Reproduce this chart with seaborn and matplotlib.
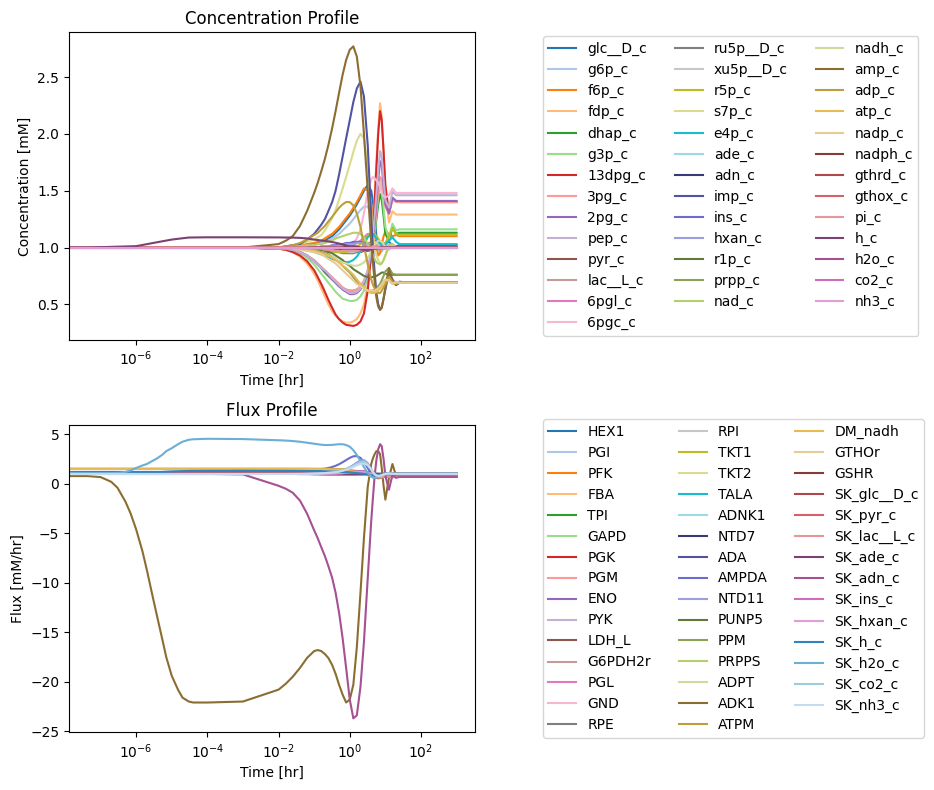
import matplotlib
matplotlib.use("Agg")
import matplotlib.pyplot as plt
import pandas as pd
import seaborn as sns

# time points [hr]; the 0 start gets clipped to the left edge of the log axis
t_grade = [0, 4.3e-8, 1e-6, 3e-6, 1e-5, 3e-5, 1e-4, 1e-3,
           0.01, 0.016, 0.025, 0.04, 0.063,
           0.1, 0.126, 0.158, 0.2, 0.25,
           0.32, 0.4, 0.5, 0.63, 0.79,
           1.0, 1.26, 1.58, 2.0, 2.5,
           3.2, 4.0, 4.5, 5.0, 5.6,
           6.3, 7.1, 7.9, 8.9, 10,
           12.6, 15.8, 20, 25, 32,
           50, 1000]
# denser start, for the two fluxes that move early
t_grade_fina = [0, 4.3e-8, 1e-7, 2e-7, 3e-7, 5e-7, 7e-7, 1e-6, 1.5e-6, 2e-6, 3e-6, 4e-6,
                5.5e-6, 7e-6, 1e-5, 1.5e-5, 2e-5, 3e-5, 4e-5, 1e-4, 1e-3,
                0.01, 0.016, 0.025, 0.04, 0.063,
                0.1, 0.126, 0.158, 0.2, 0.25,
                0.32, 0.4, 0.5, 0.63, 0.79,
                1.0, 1.26, 1.58, 2.0, 2.5,
                3.2, 4.0, 4.5, 5.0, 5.6,
                6.3, 7.1, 7.9, 8.9, 10,
                12.6, 15.8, 20, 25, 32,
                50, 1000]
x_ticks = [1e-6, 1e-4, 1e-2, 1e0, 1e2]

################## Concentrations (mM) ##################
glc__D_c = [1.0, 1.0, 1.0, 1.0, 1.0, 1.0, 1.0, 1.0,
            1.0, 1.0, 1.01, 1.01, 1.02, 1.03, 1.04, 1.05, 1.06, 1.08,
            1.1, 1.13, 1.16, 1.2, 1.24, 1.28, 1.33, 1.38, 1.44, 1.5,
            1.55, 1.5, 1.4, 1.25, 1.1, 1.0, 0.96, 0.97, 1.0, 1.04,
            1.05, 1.02, 1.01, 1.02, 1.02, 1.02, 1.02]
g6p_c = [1.0, 1.0, 1.0, 1.0, 1.0, 1.0, 1.0, 1.0,
         1.0, 1.0, 1.0, 1.01, 1.01, 1.02, 1.03, 1.04, 1.05, 1.06,
         1.08, 1.1, 1.12, 1.15, 1.18, 1.21, 1.25, 1.29, 1.33, 1.36,
         1.36, 1.3, 1.22, 1.12, 1.04, 0.98, 0.96, 0.97, 1.0, 1.02,
         1.03, 1.01, 1.0, 1.0, 1.0, 1.0, 1.0]
f6p_c = [1.0, 1.0, 1.0, 1.0, 1.0, 1.0, 1.0, 1.0,
         1.0, 1.0, 1.01, 1.02, 1.03, 1.04, 1.05, 1.06, 1.08, 1.1,
         1.12, 1.15, 1.18, 1.22, 1.26, 1.3, 1.35, 1.4, 1.46, 1.52,
         1.5, 1.38, 1.25, 1.1, 1.0, 0.93, 0.95, 1.02, 1.1, 1.14,
         1.12, 1.1, 1.11, 1.1, 1.1, 1.1, 1.1]
fdp_c = [1.0, 1.0, 1.0, 1.0, 1.0, 1.0, 1.0, 1.0,
         0.99, 0.98, 0.96, 0.92, 0.86, 0.77, 0.71, 0.64, 0.57, 0.5,
         0.44, 0.4, 0.37, 0.35, 0.34, 0.34, 0.35, 0.37, 0.42, 0.5,
         0.68, 1.0, 1.18, 1.45, 1.75, 2.05, 2.27, 2.15, 1.85, 1.5,
         1.22, 1.32, 1.29, 1.29, 1.29, 1.29, 1.29]
dhap_c = [1.0, 1.0, 1.0, 1.0, 1.0, 1.0, 1.0, 1.0,
          0.99, 0.99, 0.98, 0.96, 0.93, 0.88, 0.85, 0.82, 0.78, 0.75,
          0.72, 0.69, 0.66, 0.64, 0.63, 0.62, 0.62, 0.63, 0.65, 0.69,
          0.78, 0.9, 1.0, 1.12, 1.25, 1.38, 1.47, 1.42, 1.28, 1.12,
          1.06, 1.18, 1.12, 1.13, 1.13, 1.13, 1.13]
g3p_c = [1.0, 1.0, 1.0, 1.0, 1.0, 1.0, 1.0, 1.0,
         0.99, 0.98, 0.97, 0.95, 0.91, 0.85, 0.81, 0.77, 0.73, 0.69,
         0.65, 0.61, 0.58, 0.55, 0.54, 0.53, 0.53, 0.54, 0.57, 0.62,
         0.75, 0.9, 1.02, 1.15, 1.3, 1.45, 1.56, 1.5, 1.35, 1.18,
         1.08, 1.21, 1.15, 1.16, 1.16, 1.16, 1.16]
_13dpg_c = [1.0, 1.0, 1.0, 1.0, 1.0, 1.0, 1.0, 1.0,
            0.99, 0.98, 0.96, 0.93, 0.88, 0.8, 0.74, 0.68, 0.61, 0.54,
            0.47, 0.41, 0.37, 0.34, 0.32, 0.315, 0.31, 0.32, 0.35, 0.42,
            0.62, 0.95, 1.12, 1.4, 1.7, 2.0, 2.2, 2.12, 1.85, 1.55,
            1.3, 1.43, 1.41, 1.4, 1.4, 1.4, 1.4]
_3pg_c = [1.0, 1.0, 1.0, 1.0, 1.0, 1.0, 1.0, 1.0,
          0.99, 0.99, 0.98, 0.96, 0.93, 0.89, 0.86, 0.83, 0.8, 0.77,
          0.74, 0.71, 0.68, 0.65, 0.63, 0.62, 0.62, 0.63, 0.66, 0.71,
          0.8, 0.95, 1.06, 1.18, 1.32, 1.48, 1.62, 1.6, 1.48, 1.36,
          1.3, 1.42, 1.4, 1.4, 1.4, 1.4, 1.4]
_2pg_c = [1.0, 1.0, 1.0, 1.0, 1.0, 1.0, 1.0, 1.0,
          0.99, 0.99, 0.98, 0.96, 0.93, 0.88, 0.85, 0.82, 0.79, 0.76,
          0.72, 0.69, 0.66, 0.63, 0.61, 0.59, 0.59, 0.6, 0.63, 0.68,
          0.78, 0.95, 1.08, 1.22, 1.4, 1.6, 1.76, 1.72, 1.55, 1.38,
          1.3, 1.44, 1.41, 1.41, 1.41, 1.41, 1.41]
pep_c = [1.0, 1.0, 1.0, 1.0, 1.0, 1.0, 1.0, 1.0,
         0.99, 0.99, 0.98, 0.96, 0.93, 0.88, 0.85, 0.82, 0.8, 0.77,
         0.73, 0.7, 0.67, 0.64, 0.62, 0.6, 0.6, 0.61, 0.64, 0.7,
         0.8, 0.98, 1.12, 1.28, 1.47, 1.68, 1.85, 1.8, 1.6, 1.42,
         1.35, 1.49, 1.46, 1.46, 1.46, 1.46, 1.46]
pyr_c = [1.0, 1.0, 1.0, 1.0, 1.0, 1.0, 1.0, 1.0,
         1.0, 1.0, 1.0, 1.0, 1.0, 0.99, 0.99, 0.99, 0.98, 0.98,
         0.98, 0.97, 0.97, 0.97, 0.96, 0.96, 0.96, 0.96, 0.96, 0.97,
         0.97, 0.98, 0.99, 1.0, 1.0, 1.01, 1.01, 1.01, 1.0, 1.0,
         1.0, 1.0, 1.0, 1.0, 1.0, 1.0, 1.0]
lac__L_c = [1.0, 1.0, 1.0, 1.0, 1.0, 1.0, 1.0, 1.0,
            1.0, 1.0, 1.0, 1.0, 1.0, 1.0, 0.99, 0.99, 0.99, 0.98,
            0.98, 0.98, 0.97, 0.97, 0.97, 0.97, 0.97, 0.97, 0.97, 0.98,
            0.98, 0.99, 0.99, 1.0, 1.0, 1.01, 1.01, 1.0, 1.0, 1.0,
            1.0, 1.0, 1.0, 1.0, 1.0, 1.0, 1.0]
_6pgl_c = [1.0, 1.0, 1.0, 1.0, 1.0, 1.0, 1.0, 1.0,
           1.0, 1.0, 1.0, 1.0, 1.0, 1.0, 1.0, 1.0, 1.0, 1.0,
           1.0, 1.0, 1.0, 1.01, 1.01, 1.01, 1.02, 1.04, 1.06, 1.09,
           1.12, 1.12, 1.1, 1.08, 1.05, 1.02, 1.0, 0.99, 1.0, 1.01,
           1.01, 1.0, 1.0, 1.0, 1.0, 1.0, 1.0]
_6pgc_c = [1.0, 1.0, 1.0, 1.0, 1.0, 1.0, 1.0, 1.0,
           1.0, 1.0, 1.0, 1.0, 1.0, 1.0, 1.0, 1.0, 1.0, 1.0,
           1.0, 1.0, 1.0, 1.0, 1.01, 1.02, 1.04, 1.08, 1.16, 1.3,
           1.5, 1.6, 1.62, 1.61, 1.59, 1.57, 1.53, 1.48, 1.45, 1.44,
           1.46, 1.52, 1.48, 1.48, 1.48, 1.48, 1.48]
ru5p__D_c = [1.0, 1.0, 1.0, 1.0, 1.0, 1.0, 1.0, 1.0,
             1.0, 1.0, 1.0, 1.0, 1.0, 0.99, 0.99, 0.98, 0.98, 0.97,
             0.97, 0.96, 0.96, 0.95, 0.95, 0.95, 0.95, 0.96, 0.98, 1.0,
             1.03, 1.05, 1.06, 1.06, 1.05, 1.04, 1.02, 1.0, 0.99, 0.99,
             1.0, 1.01, 1.0, 1.0, 1.0, 1.0, 1.0]
xu5p__D_c = [1.0, 1.0, 1.0, 1.0, 1.0, 1.0, 1.0, 1.0,
             1.0, 1.0, 1.0, 1.0, 1.0, 0.99, 0.99, 0.99, 0.98, 0.98,
             0.97, 0.97, 0.96, 0.96, 0.96, 0.96, 0.96, 0.97, 0.98, 1.0,
             1.02, 1.04, 1.05, 1.05, 1.04, 1.03, 1.01, 1.0, 0.99, 0.99,
             1.0, 1.01, 1.0, 1.0, 1.0, 1.0, 1.0]
r5p_c = [1.0, 1.0, 1.0, 1.0, 1.0, 1.0, 1.0, 1.0,
         1.0, 1.0, 1.0, 1.0, 1.0, 0.99, 0.99, 0.98, 0.98, 0.97,
         0.97, 0.96, 0.96, 0.96, 0.96, 0.97, 0.98, 1.0, 1.03, 1.07,
         1.1, 1.13, 1.13, 1.12, 1.1, 1.08, 1.05, 1.03, 1.02, 1.04,
         1.1, 1.17, 1.12, 1.11, 1.11, 1.11, 1.11]
s7p_c = [1.0, 1.0, 1.0, 1.0, 1.0, 1.0, 1.0, 1.0,
         1.0, 1.01, 1.02, 1.03, 1.05, 1.07, 1.09, 1.11, 1.15, 1.2,
         1.26, 1.33, 1.42, 1.52, 1.62, 1.73, 1.84, 1.94, 2.0, 1.96,
         1.7, 1.3, 1.12, 1.0, 0.93, 0.89, 0.86, 0.86, 0.89, 0.93,
         1.02, 1.03, 1.0, 1.0, 1.0, 1.0, 1.0]
e4p_c = [1.0, 1.0, 1.0, 1.0, 1.0, 1.0, 1.0, 1.0,
         1.0, 1.0, 0.99, 0.99, 0.98, 0.96, 0.95, 0.94, 0.93, 0.92,
         0.9, 0.89, 0.88, 0.87, 0.87, 0.875, 0.89, 0.92, 0.97, 1.03,
         1.09, 1.12, 1.12, 1.1, 1.08, 1.06, 1.04, 1.02, 1.02, 1.03,
         1.06, 1.09, 1.05, 1.03, 1.03, 1.03, 1.03]
ade_c = [1.0, 1.0, 1.0, 1.0, 1.0, 1.0, 1.0, 1.0,
         1.0, 1.0, 1.0, 1.0, 1.0, 1.0, 1.0, 1.0, 0.99, 0.99,
         0.99, 0.98, 0.98, 0.98, 0.98, 0.98, 0.98, 0.99, 1.0, 1.0,
         1.01, 1.01, 1.01, 1.01, 1.0, 1.0, 1.0, 1.0, 1.0, 1.0,
         1.0, 1.0, 1.0, 1.0, 1.0, 1.0, 1.0]
adn_c = [1.0, 1.0, 1.0, 1.0, 1.0, 1.0, 1.0, 1.0,
         1.0, 1.0, 1.0, 1.0, 1.0, 1.0, 1.0, 1.0, 1.0, 1.0,
         0.99, 0.99, 0.99, 0.98, 0.98, 0.98, 0.98, 0.99, 0.99, 1.0,
         1.0, 1.0, 1.0, 1.0, 1.0, 1.0, 1.0, 1.0, 1.0, 1.0,
         1.0, 1.0, 1.0, 1.0, 1.0, 1.0, 1.0]
imp_c = [1.0, 1.0, 1.0, 1.0, 1.0, 1.0, 1.0, 1.0,
         1.0, 1.01, 1.02, 1.03, 1.07, 1.12, 1.16, 1.2, 1.25, 1.32,
         1.4, 1.5, 1.64, 1.8, 1.96, 2.12, 2.28, 2.4, 2.46, 2.33,
         1.9, 1.27, 0.98, 0.78, 0.6, 0.5, 0.46, 0.47, 0.55, 0.63,
         0.78, 0.72, 0.67, 0.69, 0.69, 0.69, 0.69]
ins_c = [1.0, 1.0, 1.0, 1.0, 1.0, 1.0, 1.0, 1.0,
         1.0, 1.0, 1.0, 1.0, 1.0, 1.0, 1.0, 1.01, 1.01, 1.01,
         1.02, 1.02, 1.03, 1.03, 1.04, 1.04, 1.05, 1.05, 1.05, 1.04,
         1.03, 1.01, 1.0, 0.99, 0.99, 0.99, 1.0, 1.0, 1.0, 1.0,
         1.0, 1.0, 1.0, 1.0, 1.0, 1.0, 1.0]
hxan_c = [1.0, 1.0, 1.0, 1.0, 1.0, 1.0, 1.0, 1.0,
          1.0, 1.0, 1.0, 1.0, 1.0, 1.0, 1.0, 1.0, 1.0, 1.01,
          1.01, 1.01, 1.02, 1.02, 1.03, 1.03, 1.03, 1.04, 1.04, 1.03,
          1.02, 1.01, 1.0, 1.0, 1.0, 1.0, 1.0, 1.0, 1.0, 1.0,
          1.0, 1.0, 1.0, 1.0, 1.0, 1.0, 1.0]
r1p_c = [1.0, 1.0, 1.0, 1.0, 1.0, 1.0, 1.0, 1.0,
         1.0, 1.0, 1.0, 1.0, 0.99, 0.99, 0.98, 0.98, 0.97, 0.96,
         0.95, 0.93, 0.91, 0.89, 0.86, 0.84, 0.81, 0.79, 0.77, 0.75,
         0.74, 0.74, 0.74, 0.75, 0.75, 0.76, 0.77, 0.78, 0.78, 0.77,
         0.76, 0.76, 0.76, 0.76, 0.76, 0.76, 0.76]
prpp_c = [1.0, 1.0, 1.0, 1.0, 1.0, 1.0, 1.0, 1.0,
          1.0, 1.0, 1.0, 0.99, 0.99, 0.98, 0.97, 0.96, 0.95, 0.94,
          0.92, 0.9, 0.87, 0.84, 0.81, 0.78, 0.74, 0.7, 0.67, 0.64,
          0.62, 0.62, 0.62, 0.63, 0.64, 0.66, 0.68, 0.71, 0.75, 0.79,
          0.82, 0.77, 0.76, 0.76, 0.76, 0.76, 0.76]
nad_c = [1.0, 1.0, 1.0, 1.0, 1.0, 1.0, 1.0, 1.0,
         1.0, 1.0, 1.01, 1.01, 1.02, 1.02, 1.03, 1.03, 1.04, 1.05,
         1.06, 1.08, 1.09, 1.1, 1.11, 1.12, 1.13, 1.13, 1.12, 1.09,
         1.03, 0.97, 0.93, 0.9, 0.87, 0.86, 0.85, 0.86, 0.89, 0.93,
         1.02, 1.03, 1.0, 1.0, 1.0, 1.0, 1.0]
nadh_c = [1.0, 1.0, 1.0, 1.0, 1.0, 1.0, 1.0, 1.0,
          1.0, 1.0, 0.99, 0.99, 0.98, 0.97, 0.96, 0.95, 0.94, 0.93,
          0.92, 0.9, 0.88, 0.87, 0.86, 0.85, 0.84, 0.84, 0.85, 0.87,
          0.91, 0.96, 0.99, 1.02, 1.04, 1.06, 1.06, 1.05, 1.03, 1.0,
          0.98, 1.01, 1.0, 1.0, 1.0, 1.0, 1.0]
amp_c = [1.0, 1.0, 1.0, 1.0, 1.0, 1.0, 1.0, 1.0,
         1.03, 1.06, 1.1, 1.19, 1.32, 1.48, 1.57, 1.67, 1.78, 1.9,
         2.05, 2.2, 2.36, 2.52, 2.65, 2.74, 2.77, 2.68, 2.42, 2.0,
         1.5, 1.05, 0.85, 0.7, 0.56, 0.48, 0.45, 0.47, 0.55, 0.65,
         0.82, 0.7, 0.67, 0.7, 0.695, 0.695, 0.695]
adp_c = [1.0, 1.0, 1.0, 1.0, 1.0, 1.0, 1.0, 1.0,
         1.0, 1.01, 1.02, 1.04, 1.07, 1.11, 1.13, 1.16, 1.19, 1.23,
         1.27, 1.31, 1.35, 1.38, 1.4, 1.4, 1.37, 1.3, 1.18, 1.02,
         0.85, 0.72, 0.67, 0.64, 0.61, 0.6, 0.6, 0.62, 0.65, 0.68,
         0.74, 0.7, 0.68, 0.69, 0.69, 0.69, 0.69]
atp_c = [1.0, 1.0, 1.0, 1.0, 1.0, 1.0, 1.0, 1.0,
         1.0, 1.0, 0.99, 0.99, 0.98, 0.97, 0.96, 0.95, 0.94, 0.93,
         0.91, 0.89, 0.87, 0.84, 0.82, 0.79, 0.76, 0.72, 0.68, 0.65,
         0.62, 0.6, 0.6, 0.6, 0.61, 0.62, 0.64, 0.66, 0.69, 0.71,
         0.71, 0.68, 0.69, 0.69, 0.69, 0.69, 0.69]
nadp_c = [1.0, 1.0, 1.0, 1.0, 1.0, 1.0, 1.0, 1.0,
          1.0, 1.0, 0.99, 0.98, 0.97, 0.96, 0.95, 0.94, 0.92, 0.9,
          0.88, 0.86, 0.83, 0.8, 0.77, 0.74, 0.71, 0.68, 0.66, 0.64,
          0.62, 0.62, 0.62, 0.62, 0.63, 0.64, 0.66, 0.68, 0.7, 0.72,
          0.71, 0.68, 0.7, 0.69, 0.69, 0.69, 0.69]
nadph_c = [1.0, 1.0, 1.0, 1.0, 1.0, 1.0, 1.0, 1.0,
           1.0, 1.0, 1.0, 1.0, 1.0, 1.0, 1.0, 1.0, 1.0, 1.0,
           1.0, 1.0, 1.0, 1.0, 1.01, 1.01, 1.01, 1.01, 1.0, 1.0,
           1.0, 1.0, 1.0, 1.0, 1.0, 1.0, 1.0, 1.0, 1.0, 1.0,
           1.0, 1.0, 1.0, 1.0, 1.0, 1.0, 1.0]
gthrd_c = [1.0, 1.0, 1.0, 1.0, 1.0, 1.0, 1.0, 1.0,
           1.0, 1.0, 1.0, 1.0, 1.0, 1.0, 1.0, 1.0, 1.0, 1.0,
           1.0, 1.0, 1.0, 1.0, 1.0, 1.0, 1.0, 1.0, 1.0, 1.0,
           1.0, 1.0, 1.0, 1.0, 1.0, 1.0, 1.0, 1.0, 1.0, 1.0,
           1.0, 1.0, 1.0, 1.0, 1.0, 1.0, 1.0]
gthox_c = [1.0, 1.0, 1.0, 1.0, 1.0, 1.0, 1.0, 1.0,
           1.0, 1.0, 1.0, 1.0, 1.0, 1.0, 1.0, 1.0, 1.0, 1.0,
           1.0, 1.0, 1.0, 0.99, 0.99, 0.99, 0.99, 0.99, 1.0, 1.0,
           1.0, 1.0, 1.0, 1.0, 1.0, 1.0, 1.0, 1.0, 1.0, 1.0,
           1.0, 1.0, 1.0, 1.0, 1.0, 1.0, 1.0]
pi_c = [1.0, 1.0, 1.0, 1.0, 1.0, 1.0, 1.0, 1.0,
        1.0, 1.0, 1.0, 1.0, 1.0, 0.99, 0.99, 0.99, 0.98, 0.98,
        0.98, 0.97, 0.97, 0.97, 0.97, 0.97, 0.97, 0.97, 0.98, 0.99,
        1.0, 1.0, 1.01, 1.01, 1.01, 1.01, 1.0, 1.0, 1.0, 1.0,
        1.0, 1.0, 1.0, 1.0, 1.0, 1.0, 1.0]
h_c = [1.0, 1.0, 1.012, 1.04, 1.07, 1.088, 1.09, 1.09,
       1.089, 1.088, 1.087, 1.085, 1.08, 1.07, 1.066, 1.062, 1.058, 1.054,
       1.048, 1.042, 1.035, 1.027, 1.018, 1.008, 0.998, 0.99, 0.984, 0.98,
       0.98, 0.983, 0.986, 0.99, 0.993, 0.996, 0.998, 1.0, 1.0, 1.0,
       1.0, 1.0, 1.0, 1.0, 1.0, 1.0, 1.0]
h2o_c = [1.0, 1.0, 1.0, 1.0, 1.0, 1.0, 1.0, 1.0,
         1.0, 1.0, 1.0, 1.0, 1.0, 1.0, 1.0, 1.0, 1.0, 1.0,
         1.0, 1.0, 1.0, 1.0, 1.0, 1.0, 1.0, 1.0, 1.0, 1.0,
         1.0, 1.0, 1.0, 1.0, 1.0, 1.0, 1.0, 1.0, 1.0, 1.0,
         1.0, 1.0, 1.0, 1.0, 1.0, 1.0, 1.0]
co2_c = [1.0, 1.0, 1.0, 1.0, 1.0, 1.0, 1.0, 1.0,
         1.0, 1.0, 1.0, 1.0, 1.0, 1.0, 1.0, 1.0, 1.0, 1.0,
         1.0, 1.0, 1.0, 1.0, 1.0, 1.0, 1.0, 1.0, 1.0, 1.0,
         1.0, 1.0, 1.0, 1.0, 1.0, 1.0, 1.0, 1.0, 1.0, 1.0,
         1.0, 1.0, 1.0, 1.0, 1.0, 1.0, 1.0]
nh3_c = [1.0, 1.0, 1.0, 1.0, 1.0, 1.0, 1.0, 1.0,
         1.0, 1.0, 1.0, 1.0, 1.0, 1.0, 1.0, 1.0, 1.0, 1.0,
         1.0, 1.0, 1.0, 1.0, 1.0, 1.0, 1.0, 1.0, 1.0, 1.0,
         1.0, 1.0, 1.0, 1.0, 1.0, 1.0, 1.0, 1.0, 1.0, 1.0,
         1.0, 1.0, 1.0, 1.0, 1.0, 1.0, 1.0]

met_names = ["glc__D_c", "g6p_c", "f6p_c", "fdp_c", "dhap_c", "g3p_c", "13dpg_c", "3pg_c",
             "2pg_c", "pep_c", "pyr_c", "lac__L_c", "6pgl_c", "6pgc_c", "ru5p__D_c", "xu5p__D_c",
             "r5p_c", "s7p_c", "e4p_c", "ade_c", "adn_c", "imp_c", "ins_c", "hxan_c", "r1p_c",
             "prpp_c", "nad_c", "nadh_c", "amp_c", "adp_c", "atp_c", "nadp_c", "nadph_c",
             "gthrd_c", "gthox_c", "pi_c", "h_c", "h2o_c", "co2_c", "nh3_c"]
met_values = [glc__D_c, g6p_c, f6p_c, fdp_c, dhap_c, g3p_c, _13dpg_c, _3pg_c, _2pg_c, pep_c,
              pyr_c, lac__L_c, _6pgl_c, _6pgc_c, ru5p__D_c, xu5p__D_c, r5p_c, s7p_c, e4p_c,
              ade_c, adn_c, imp_c, ins_c, hxan_c, r1p_c, prpp_c, nad_c, nadh_c, amp_c, adp_c,
              atp_c, nadp_c, nadph_c, gthrd_c, gthox_c, pi_c, h_c, h2o_c, co2_c, nh3_c]

################## Fluxes (mM/hr) ##################
HEX1 = [1.12, 1.12, 1.12, 1.12, 1.12, 1.12, 1.12, 1.12,
        1.12, 1.12, 1.12, 1.13, 1.13, 1.14, 1.14, 1.15, 1.16, 1.17,
        1.18, 1.2, 1.22, 1.24, 1.26, 1.28, 1.3, 1.3, 1.26, 1.18,
        1.05, 0.88, 0.79, 0.71, 0.65, 0.62, 0.63, 0.67, 0.72, 0.75,
        0.72, 0.69, 0.7, 0.7, 0.7, 0.7, 0.7]
PGI = [1.1, 1.1, 1.1, 1.1, 1.1, 1.1, 1.1, 1.1,
       1.1, 1.1, 1.1, 1.11, 1.11, 1.12, 1.12, 1.13, 1.14, 1.15,
       1.16, 1.18, 1.2, 1.22, 1.24, 1.26, 1.28, 1.28, 1.24, 1.16,
       1.03, 0.86, 0.77, 0.7, 0.65, 0.62, 0.64, 0.68, 0.73, 0.75,
       0.71, 0.69, 0.7, 0.7, 0.7, 0.7, 0.7]
PFK = [1.1, 1.1, 1.1, 1.1, 1.1, 1.1, 1.1, 1.1,
       1.1, 1.1, 1.1, 1.1, 1.1, 1.11, 1.11, 1.12, 1.12, 1.13,
       1.14, 1.15, 1.16, 1.18, 1.19, 1.2, 1.22, 1.22, 1.2, 1.13,
       1.02, 0.85, 0.74, 0.64, 0.58, 0.56, 0.6, 0.68, 0.76, 0.8,
       0.72, 0.68, 0.7, 0.7, 0.7, 0.7, 0.7]
FBA = [1.1, 1.1, 1.1, 1.1, 1.1, 1.1, 1.1, 1.1,
       1.09, 1.09, 1.08, 1.08, 1.07, 1.06, 1.05, 1.05, 1.04, 1.03,
       1.03, 1.02, 1.02, 1.02, 1.02, 1.03, 1.04, 1.05, 1.06, 1.04,
       0.98, 0.88, 0.8, 0.72, 0.66, 0.62, 0.63, 0.68, 0.76, 0.8,
       0.72, 0.68, 0.7, 0.7, 0.7, 0.7, 0.7]
TPI = [1.08, 1.08, 1.08, 1.08, 1.08, 1.08, 1.08, 1.08,
       1.07, 1.07, 1.06, 1.06, 1.05, 1.04, 1.03, 1.03, 1.02, 1.01,
       1.01, 1.0, 1.0, 1.0, 1.0, 1.0, 1.01, 1.02, 1.04, 1.03,
       0.98, 0.88, 0.81, 0.74, 0.68, 0.64, 0.65, 0.69, 0.75, 0.78,
       0.71, 0.69, 0.7, 0.7, 0.7, 0.7, 0.7]
GAPD = [1.05, 1.05, 1.05, 1.05, 1.05, 1.05, 1.05, 1.05,
        1.04, 1.04, 1.04, 1.03, 1.02, 1.01, 1.0, 0.99, 0.99, 0.98,
        0.97, 0.96, 0.96, 0.96, 0.96, 0.97, 0.99, 1.01, 1.05, 1.06,
        1.05, 0.9, 0.8, 0.72, 0.65, 0.6, 0.6, 0.66, 0.76, 0.82,
        0.72, 0.68, 0.7, 0.7, 0.7, 0.7, 0.7]
PGK = [1.05, 1.05, 1.05, 1.05, 1.05, 1.05, 1.05, 1.05,
       1.04, 1.04, 1.04, 1.03, 1.02, 1.01, 1.0, 0.99, 0.99, 0.98,
       0.97, 0.96, 0.96, 0.96, 0.96, 0.97, 0.99, 1.01, 1.05, 1.07,
       1.06, 0.92, 0.8, 0.7, 0.62, 0.58, 0.58, 0.66, 0.78, 0.83,
       0.72, 0.68, 0.7, 0.7, 0.7, 0.7, 0.7]
PGM = [1.05, 1.05, 1.05, 1.05, 1.05, 1.05, 1.05, 1.05,
       1.04, 1.04, 1.04, 1.03, 1.03, 1.02, 1.01, 1.0, 1.0, 0.99,
       0.98, 0.97, 0.97, 0.97, 0.97, 0.98, 0.99, 1.01, 1.04, 1.05,
       1.04, 0.93, 0.83, 0.74, 0.66, 0.62, 0.6, 0.64, 0.74, 0.82,
       0.72, 0.68, 0.7, 0.7, 0.7, 0.7, 0.7]
ENO = [1.05, 1.05, 1.05, 1.05, 1.05, 1.05, 1.05, 1.05,
       1.04, 1.04, 1.04, 1.03, 1.03, 1.02, 1.01, 1.0, 1.0, 0.99,
       0.98, 0.97, 0.97, 0.97, 0.97, 0.98, 0.99, 1.01, 1.04, 1.05,
       1.04, 0.94, 0.84, 0.75, 0.67, 0.63, 0.6, 0.63, 0.72, 0.82,
       0.72, 0.68, 0.7, 0.7, 0.7, 0.7, 0.7]
PYK = [1.05, 1.05, 1.05, 1.05, 1.05, 1.05, 1.05, 1.05,
       1.04, 1.04, 1.04, 1.03, 1.03, 1.02, 1.01, 1.0, 1.0, 0.99,
       0.98, 0.97, 0.96, 0.95, 0.95, 0.95, 0.96, 0.98, 1.02, 1.04,
       1.04, 0.95, 0.86, 0.77, 0.69, 0.64, 0.6, 0.62, 0.7, 0.8,
       0.72, 0.68, 0.7, 0.7, 0.7, 0.7, 0.7]
LDH_L = [1.0, 1.0, 1.0, 1.0, 1.0, 1.0, 1.0, 1.0,
         1.0, 1.0, 1.0, 0.99, 0.99, 0.98, 0.98, 0.97, 0.97, 0.96,
         0.96, 0.95, 0.94, 0.93, 0.93, 0.92, 0.92, 0.92, 0.93, 0.93,
         0.92, 0.85, 0.8, 0.75, 0.7, 0.68, 0.66, 0.66, 0.7, 0.75,
         0.72, 0.69, 0.7, 0.7, 0.7, 0.7, 0.7]
G6PDH2r = [1.0, 1.0, 1.0, 1.0, 1.0, 1.0, 1.0, 1.0,
           1.0, 1.0, 1.0, 1.0, 1.0, 1.0, 1.0, 1.0, 1.01, 1.01,
           1.02, 1.02, 1.03, 1.04, 1.06, 1.08, 1.09, 1.1, 1.12, 1.12,
           1.1, 1.02, 0.99, 0.96, 0.95, 0.94, 0.95, 0.96, 0.98, 1.01,
           1.02, 1.01, 1.0, 1.0, 1.0, 1.0, 1.0]
PGL = [1.0, 1.0, 1.0, 1.0, 1.0, 1.0, 1.0, 1.0,
       1.0, 1.0, 1.0, 1.0, 1.0, 1.0, 1.0, 1.0, 1.01, 1.01,
       1.02, 1.02, 1.03, 1.04, 1.05, 1.07, 1.09, 1.1, 1.12, 1.12,
       1.1, 1.03, 1.0, 0.97, 0.96, 0.95, 0.95, 0.96, 0.98, 1.01,
       1.02, 1.01, 1.0, 1.0, 1.0, 1.0, 1.0]
GND = [1.0, 1.0, 1.0, 1.0, 1.0, 1.0, 1.0, 1.0,
       1.0, 1.0, 1.0, 1.0, 1.0, 1.0, 1.0, 1.0, 1.0, 1.01,
       1.01, 1.02, 1.02, 1.03, 1.04, 1.06, 1.08, 1.09, 1.11, 1.11,
       1.1, 1.04, 1.01, 0.98, 0.96, 0.95, 0.95, 0.96, 0.98, 1.0,
       1.02, 1.01, 1.0, 1.0, 1.0, 1.0, 1.0]
RPE = [1.0, 1.0, 1.0, 1.0, 1.0, 1.0, 1.0, 1.0,
       1.0, 1.0, 1.0, 1.0, 1.0, 0.99, 0.99, 0.98, 0.98, 0.97,
       0.97, 0.96, 0.96, 0.96, 0.97, 0.97, 0.99, 1.01, 1.05, 1.08,
       1.1, 1.08, 1.05, 1.02, 1.0, 0.98, 0.97, 0.97, 0.98, 1.0,
       1.01, 1.01, 1.0, 1.0, 1.0, 1.0, 1.0]
RPI = [1.0, 1.0, 1.0, 1.0, 1.0, 1.0, 1.0, 1.0,
       1.0, 1.0, 1.0, 1.0, 1.0, 1.0, 1.0, 1.0, 1.0, 1.0,
       1.0, 1.0, 1.01, 1.01, 1.02, 1.03, 1.03, 1.04, 1.05, 1.05,
       1.04, 1.01, 1.0, 0.99, 0.98, 0.98, 0.98, 0.99, 0.99, 1.0,
       1.0, 1.0, 1.0, 1.0, 1.0, 1.0, 1.0]
TKT1 = [1.0, 1.0, 1.0, 1.0, 1.0, 1.0, 1.0, 1.0,
        1.0, 1.0, 1.0, 1.0, 1.0, 0.99, 0.99, 0.98, 0.98, 0.97,
        0.97, 0.96, 0.96, 0.97, 0.98, 0.99, 1.01, 1.03, 1.06, 1.09,
        1.1, 1.07, 1.04, 1.02, 1.0, 0.98, 0.97, 0.97, 0.98, 1.0,
        1.01, 1.01, 1.0, 1.0, 1.0, 1.0, 1.0]
TKT2 = [1.0, 1.0, 1.0, 1.0, 1.0, 1.0, 1.0, 1.0,
        1.0, 1.0, 1.0, 1.0, 1.0, 0.99, 0.99, 0.98, 0.98, 0.97,
        0.97, 0.96, 0.96, 0.97, 0.98, 0.99, 1.01, 1.03, 1.07, 1.1,
        1.12, 1.08, 1.05, 1.02, 1.0, 0.98, 0.97, 0.97, 0.98, 1.0,
        1.01, 1.01, 1.0, 1.0, 1.0, 1.0, 1.0]
TALA = [1.0, 1.0, 1.0, 1.0, 1.0, 1.0, 1.0, 1.0,
        1.0, 1.0, 1.0, 1.0, 1.0, 0.99, 0.99, 0.98, 0.98, 0.97,
        0.97, 0.96, 0.96, 0.97, 0.98, 0.99, 1.01, 1.03, 1.06, 1.09,
        1.1, 1.07, 1.04, 1.02, 1.0, 0.98, 0.97, 0.97, 0.98, 1.0,
        1.01, 1.01, 1.0, 1.0, 1.0, 1.0, 1.0]
ADNK1 = [1.0, 1.0, 1.0, 1.0, 1.0, 1.0, 1.0, 1.0,
         1.0, 1.0, 1.0, 1.0, 1.0, 1.0, 1.0, 1.0, 0.99, 0.99,
         0.99, 0.99, 0.98, 0.98, 0.98, 0.98, 0.98, 0.99, 0.99, 1.0,
         1.01, 1.01, 1.01, 1.0, 1.0, 1.0, 1.0, 1.0, 1.0, 1.0,
         1.0, 1.0, 1.0, 1.0, 1.0, 1.0, 1.0]
NTD7 = [1.0, 1.0, 1.0, 1.0, 1.0, 1.0, 1.0, 1.0,
        1.0, 1.0, 1.0, 1.0, 1.0, 1.0, 1.0, 1.0, 1.0, 1.0,
        1.0, 1.0, 0.99, 0.99, 0.99, 0.99, 0.99, 0.99, 1.0, 1.0,
        1.0, 1.0, 1.0, 1.0, 1.0, 1.0, 1.0, 1.0, 1.0, 1.0,
        1.0, 1.0, 1.0, 1.0, 1.0, 1.0, 1.0]
ADA = [1.0, 1.0, 1.0, 1.0, 1.0, 1.0, 1.0, 1.0,
       1.0, 1.0, 1.0, 1.0, 1.0, 1.0, 1.0, 1.0, 1.0, 1.0,
       1.0, 1.0, 1.0, 1.0, 0.99, 0.99, 0.99, 0.99, 1.0, 1.0,
       1.0, 1.0, 1.0, 1.0, 1.0, 1.0, 1.0, 1.0, 1.0, 1.0,
       1.0, 1.0, 1.0, 1.0, 1.0, 1.0, 1.0]
AMPDA = [1.2, 1.2, 1.2, 1.2, 1.2, 1.2, 1.2, 1.2,
         1.21, 1.22, 1.24, 1.27, 1.32, 1.38, 1.42, 1.47, 1.53, 1.6,
         1.7, 1.82, 1.98, 2.18, 2.4, 2.62, 2.78, 2.8, 2.62, 2.2,
         1.6, 1.05, 0.85, 0.7, 0.62, 0.62, 0.7, 0.82, 0.95, 1.05,
         1.08, 0.97, 1.0, 1.0, 1.0, 1.0, 1.0]
NTD11 = [1.02, 1.02, 1.02, 1.02, 1.02, 1.02, 1.02, 1.02,
         1.02, 1.02, 1.03, 1.03, 1.04, 1.05, 1.06, 1.08, 1.1, 1.13,
         1.17, 1.22, 1.28, 1.38, 1.5, 1.68, 1.9, 2.15, 2.35, 2.4,
         2.1, 1.5, 1.15, 0.9, 0.76, 0.7, 0.74, 0.82, 0.9, 0.96,
         1.04, 1.01, 1.0, 1.0, 1.0, 1.0, 1.0]
PUNP5 = [1.0, 1.0, 1.0, 1.0, 1.0, 1.0, 1.0, 1.0,
         1.0, 1.0, 1.0, 1.01, 1.01, 1.02, 1.03, 1.03, 1.04, 1.05,
         1.06, 1.08, 1.1, 1.13, 1.16, 1.2, 1.23, 1.26, 1.28, 1.26,
         1.18, 1.06, 0.98, 0.92, 0.89, 0.88, 0.89, 0.92, 0.96, 1.0,
         1.02, 1.01, 1.0, 1.0, 1.0, 1.0, 1.0]
PPM = [1.0, 1.0, 1.0, 1.0, 1.0, 1.0, 1.0, 1.0,
       1.0, 1.0, 1.0, 1.0, 1.0, 1.0, 1.0, 1.01, 1.01, 1.02,
       1.03, 1.04, 1.05, 1.07, 1.09, 1.11, 1.14, 1.16, 1.17, 1.16,
       1.1, 1.03, 0.98, 0.95, 0.93, 0.92, 0.93, 0.95, 0.98, 1.0,
       1.01, 1.01, 1.0, 1.0, 1.0, 1.0, 1.0]
PRPPS = [1.0, 1.0, 1.0, 1.0, 1.0, 1.0, 1.0, 1.0,
         1.0, 1.0, 1.0, 1.0, 1.0, 0.99, 0.99, 0.98, 0.98, 0.97,
         0.97, 0.96, 0.96, 0.96, 0.96, 0.97, 0.98, 1.0, 1.03, 1.06,
         1.08, 1.05, 1.02, 1.0, 0.98, 0.97, 0.97, 0.97, 0.98, 1.0,
         1.01, 1.0, 1.0, 1.0, 1.0, 1.0, 1.0]
ADPT = [1.0, 1.0, 1.0, 1.0, 1.0, 1.0, 1.0, 1.0,
        1.0, 1.0, 1.0, 1.0, 1.0, 1.0, 1.0, 1.0, 0.99, 0.99,
        0.99, 0.99, 0.98, 0.98, 0.98, 0.98, 0.98, 0.99, 0.99, 1.0,
        1.01, 1.01, 1.01, 1.0, 1.0, 1.0, 1.0, 1.0, 1.0, 1.0,
        1.0, 1.0, 1.0, 1.0, 1.0, 1.0, 1.0]
ADK1 = [0.78, 0.78, 0.68, 0.2, -0.4, -1.8, -3.0, -4.6, -6.8, -8.7, -11.6, -13.6,
        -15.8, -17.5, -19.4, -20.8, -21.6, -22.0, -22.1, -22.1, -22.0,
        -20.8, -20.2, -19.5, -18.6, -17.6, -16.9, -16.8, -16.9, -17.2, -17.6,
        -18.3, -19.2, -20.3, -21.3, -22.1, -21.8, -20.3, -16.5, -11.0, -5.5,
        -0.3, 2.0, 2.6, 3.0, 3.3, 3.3, 3.0, 1.6, -0.2, -1.6,
        0.6, 2.0, 0.8, 0.7, 0.7, 0.7, 0.7]
ATPM = [1.53, 1.53, 1.53, 1.53, 1.53, 1.53, 1.53, 1.53,
        1.53, 1.53, 1.53, 1.53, 1.53, 1.52, 1.52, 1.52, 1.52, 1.51,
        1.51, 1.5, 1.49, 1.47, 1.45, 1.4, 1.34, 1.26, 1.14, 1.0,
        0.88, 0.76, 0.72, 0.68, 0.66, 0.65, 0.66, 0.67, 0.69, 0.7,
        0.71, 0.69, 0.7, 0.7, 0.7, 0.7, 0.7]
DM_nadh = [1.5, 1.5, 1.5, 1.5, 1.5, 1.5, 1.5, 1.5,
           1.5, 1.5, 1.5, 1.5, 1.5, 1.49, 1.49, 1.48, 1.48, 1.47,
           1.46, 1.45, 1.44, 1.42, 1.39, 1.35, 1.29, 1.21, 1.1, 0.98,
           0.88, 0.78, 0.74, 0.7, 0.67, 0.66, 0.66, 0.67, 0.68, 0.7,
           0.71, 0.69, 0.7, 0.7, 0.7, 0.7, 0.7]
GTHOr = [1.0, 1.0, 1.0, 1.0, 1.0, 1.0, 1.0, 1.0,
         1.0, 1.0, 1.0, 1.0, 1.0, 1.0, 1.0, 1.0, 1.0, 1.01,
         1.01, 1.02, 1.02, 1.03, 1.04, 1.06, 1.07, 1.08, 1.1, 1.1,
         1.08, 1.02, 0.99, 0.97, 0.96, 0.95, 0.95, 0.96, 0.98, 1.0,
         1.01, 1.01, 1.0, 1.0, 1.0, 1.0, 1.0]
GSHR = [1.0, 1.0, 1.0, 1.0, 1.0, 1.0, 1.0, 1.0,
        1.0, 1.0, 1.0, 1.0, 1.0, 1.0, 1.0, 1.0, 1.0, 1.01,
        1.01, 1.02, 1.02, 1.03, 1.04, 1.06, 1.07, 1.08, 1.1, 1.1,
        1.08, 1.02, 0.99, 0.97, 0.96, 0.95, 0.95, 0.96, 0.98, 1.0,
        1.01, 1.01, 1.0, 1.0, 1.0, 1.0, 1.0]
SK_glc__D_c = [1.12, 1.12, 1.12, 1.12, 1.12, 1.12, 1.12, 1.12,
               1.12, 1.12, 1.12, 1.12, 1.12, 1.13, 1.13, 1.14, 1.14, 1.15,
               1.16, 1.17, 1.18, 1.19, 1.2, 1.2, 1.2, 1.19, 1.16, 1.1,
               0.99, 0.85, 0.78, 0.72, 0.68, 0.66, 0.66, 0.67, 0.69, 0.71,
               0.71, 0.7, 0.7, 0.7, 0.7, 0.7, 0.7]
SK_pyr_c = [1.0, 1.0, 1.0, 1.0, 1.0, 1.0, 1.0, 1.0,
            1.0, 1.0, 1.0, 0.99, 0.99, 0.98, 0.98, 0.97, 0.97, 0.96,
            0.96, 0.95, 0.95, 0.94, 0.93, 0.93, 0.93, 0.93, 0.94, 0.94,
            0.93, 0.86, 0.81, 0.76, 0.71, 0.69, 0.67, 0.67, 0.7, 0.74,
            0.72, 0.69, 0.7, 0.7, 0.7, 0.7, 0.7]
SK_lac__L_c = [1.0, 1.0, 1.0, 1.0, 1.0, 1.0, 1.0, 1.0,
               1.0, 1.0, 1.0, 0.99, 0.99, 0.98, 0.98, 0.97, 0.97, 0.96,
               0.96, 0.95, 0.94, 0.93, 0.93, 0.92, 0.92, 0.92, 0.93, 0.93,
               0.92, 0.85, 0.8, 0.75, 0.7, 0.68, 0.66, 0.66, 0.7, 0.75,
               0.72, 0.69, 0.7, 0.7, 0.7, 0.7, 0.7]
SK_ade_c = [1.0, 1.0, 1.0, 1.0, 1.0, 1.0, 1.0, 1.0,
            1.0, 1.0, 1.0, 1.0, 1.0, 1.0, 1.0, 1.0, 0.99, 0.99,
            0.99, 0.99, 0.98, 0.98, 0.98, 0.98, 0.98, 0.99, 0.99, 1.0,
            1.01, 1.01, 1.01, 1.0, 1.0, 1.0, 1.0, 1.0, 1.0, 1.0,
            1.0, 1.0, 1.0, 1.0, 1.0, 1.0, 1.0]
SK_adn_c = [1.0, 1.0, 1.0, 1.0, 1.0, 1.0, 1.0, 0.95,
            -0.2, -0.5, -0.9, -1.7, -3.0, -4.7, -5.5, -6.4, -7.3, -8.3,
            -9.5, -11.0, -13.0, -15.6, -18.6, -21.8, -23.7, -23.4, -20.5, -16.0,
            -9.5, -3.8, -1.3, 0.8, 2.4, 3.5, 4.0, 3.8, 2.5, 0.8,
            -0.6, 0.9, 0.6, 0.7, 0.7, 0.7, 0.7]
SK_ins_c = [1.0, 1.0, 1.0, 1.0, 1.0, 1.0, 1.0, 1.0,
            1.0, 1.0, 1.0, 1.0, 1.0, 1.01, 1.01, 1.02, 1.02, 1.03,
            1.04, 1.06, 1.08, 1.11, 1.14, 1.18, 1.22, 1.25, 1.28, 1.26,
            1.16, 1.02, 0.94, 0.88, 0.85, 0.84, 0.85, 0.88, 0.93, 0.98,
            1.02, 1.01, 1.0, 1.0, 1.0, 1.0, 1.0]
SK_hxan_c = [1.0, 1.0, 1.0, 1.0, 1.0, 1.0, 1.0, 1.0,
             1.0, 1.0, 1.0, 1.0, 1.0, 1.01, 1.01, 1.01, 1.02, 1.02,
             1.03, 1.04, 1.05, 1.07, 1.1, 1.12, 1.15, 1.17, 1.18, 1.16,
             1.1, 1.02, 0.96, 0.92, 0.89, 0.88, 0.89, 0.91, 0.94, 0.98,
             1.01, 1.01, 1.0, 1.0, 1.0, 1.0, 1.0]
SK_h_c = [1.08, 1.08, 1.1, 1.15, 1.25, 1.3, 1.31, 1.32,
          1.31, 1.31, 1.3, 1.3, 1.29, 1.29, 1.28, 1.28, 1.27, 1.26,
          1.25, 1.23, 1.21, 1.19, 1.16, 1.14, 1.11, 1.08, 1.05, 1.01,
          0.95, 0.88, 0.85, 0.85, 0.87, 0.9, 0.93, 0.96, 0.99, 1.01,
          1.02, 1.01, 1.0, 1.0, 1.0, 1.0, 1.0]
SK_h2o_c = [1.08, 1.08, 1.08, 1.09, 1.1, 1.2, 1.35, 1.6, 1.85, 2.0, 2.35, 2.6,
            2.95, 3.3, 3.6, 4.0, 4.25, 4.45, 4.5, 4.55, 4.52,
            4.4, 4.37, 4.32, 4.25, 4.15, 4.05, 4.0, 3.95, 3.92, 3.92,
            3.93, 3.97, 4.0, 4.0, 3.92, 3.75, 3.4, 2.9, 2.3, 1.7,
            1.1, 0.75, 0.62, 0.58, 0.62, 0.7, 0.8, 0.9, 1.0, 1.07,
            1.08, 1.0, 0.98, 1.02, 1.02, 1.02, 1.02]
SK_co2_c = [1.0, 1.0, 1.0, 1.0, 1.0, 1.0, 1.0, 1.0,
            1.0, 1.0, 1.01, 1.01, 1.02, 1.04, 1.05, 1.07, 1.09, 1.12,
            1.15, 1.2, 1.27, 1.36, 1.48, 1.64, 1.82, 2.02, 2.2, 2.25,
            2.0, 1.45, 1.15, 0.92, 0.8, 0.75, 0.78, 0.85, 0.92, 0.98,
            1.04, 1.01, 1.0, 1.0, 1.0, 1.0, 1.0]
SK_nh3_c = [0.98, 0.98, 0.98, 0.98, 0.98, 0.98, 0.98, 0.98,
            0.99, 0.99, 0.99, 1.0, 1.01, 1.03, 1.04, 1.06, 1.08, 1.1,
            1.13, 1.17, 1.23, 1.31, 1.41, 1.55, 1.7, 1.87, 2.0, 2.05,
            1.88, 1.45, 1.18, 0.98, 0.86, 0.8, 0.82, 0.87, 0.93, 0.99,
            1.03, 1.01, 1.0, 1.0, 1.0, 1.0, 1.0]

rxn_names = ["HEX1", "PGI", "PFK", "FBA", "TPI", "GAPD", "PGK", "PGM", "ENO", "PYK", "LDH_L",
             "G6PDH2r", "PGL", "GND", "RPE", "RPI", "TKT1", "TKT2", "TALA", "ADNK1", "NTD7", "ADA",
             "AMPDA", "NTD11", "PUNP5", "PPM", "PRPPS", "ADPT", "ADK1", "ATPM", "DM_nadh", "GTHOr",
             "GSHR", "SK_glc__D_c", "SK_pyr_c", "SK_lac__L_c", "SK_ade_c", "SK_adn_c", "SK_ins_c",
             "SK_hxan_c", "SK_h_c", "SK_h2o_c", "SK_co2_c", "SK_nh3_c"]
rxn_values = [HEX1, PGI, PFK, FBA, TPI, GAPD, PGK, PGM, ENO, PYK, LDH_L, G6PDH2r, PGL, GND, RPE,
              RPI, TKT1, TKT2, TALA, ADNK1, NTD7, ADA, AMPDA, NTD11, PUNP5, PPM, PRPPS, ADPT, ADK1,
              ATPM, DM_nadh, GTHOr, GSHR, SK_glc__D_c, SK_pyr_c, SK_lac__L_c, SK_ade_c, SK_adn_c,
              SK_ins_c, SK_hxan_c, SK_h_c, SK_h2o_c, SK_co2_c, SK_nh3_c]

# colours: tab20, then tab20b, then the start of tab20c
colores = (list(plt.get_cmap("tab20").colors) + list(plt.get_cmap("tab20b").colors)
           + list(plt.get_cmap("tab20c").colors))


def tabela_longa(nomes, valores, coluna):
    linhas = []
    for nome, serie in zip(nomes, valores):
        # each series lives on the grid whose length it matches
        tempos = t_grade if len(serie) == len(t_grade) else t_grade_fina
        for t, v in zip(tempos, serie):
            linhas.append({"time": t, "value": v, coluna: nome})
    return pd.DataFrame(linhas)


df_conc = tabela_longa(met_names, met_values, "metabolite")
df_flux = tabela_longa(rxn_names, rxn_values, "reaction")

fig, (ax1, ax2) = plt.subplots(2, 1, figsize=(9.34, 7.9))
fig.subplots_adjust(left=0.0739, right=0.5086, top=0.959, bottom=0.073, hspace=0.276)

################## Concentration ##################
sns.lineplot(data=df_conc, x="time", y="value", hue="metabolite", hue_order=met_names,
             palette=colores[:len(met_names)], estimator=None, sort=False, linewidth=1.5, ax=ax1)
ax1.set_xscale("log")
ax1.set_xticks(x_ticks)
ax1.set_title("Concentration Profile")
ax1.set_xlabel("Time [hr]")
ax1.set_ylabel("Concentration [mM]")
sns.move_legend(ax1, "center left", bbox_to_anchor=(1.15, 0.5), ncol=3, title=None, frameon=True)

################## Flux ##################
sns.lineplot(data=df_flux, x="time", y="value", hue="reaction", hue_order=rxn_names,
             palette=colores[:len(rxn_names)], estimator=None, sort=False, linewidth=1.5, ax=ax2)
ax2.set_xscale("log")
ax2.set_xticks(x_ticks)
ax2.set_title("Flux Profile")
ax2.set_xlabel("Time [hr]")
ax2.set_ylabel("Flux [mM/hr]")
sns.move_legend(ax2, "center left", bbox_to_anchor=(1.15, 0.5), ncol=3, title=None, frameon=True)

fig.savefig("out.png", dpi=100)
